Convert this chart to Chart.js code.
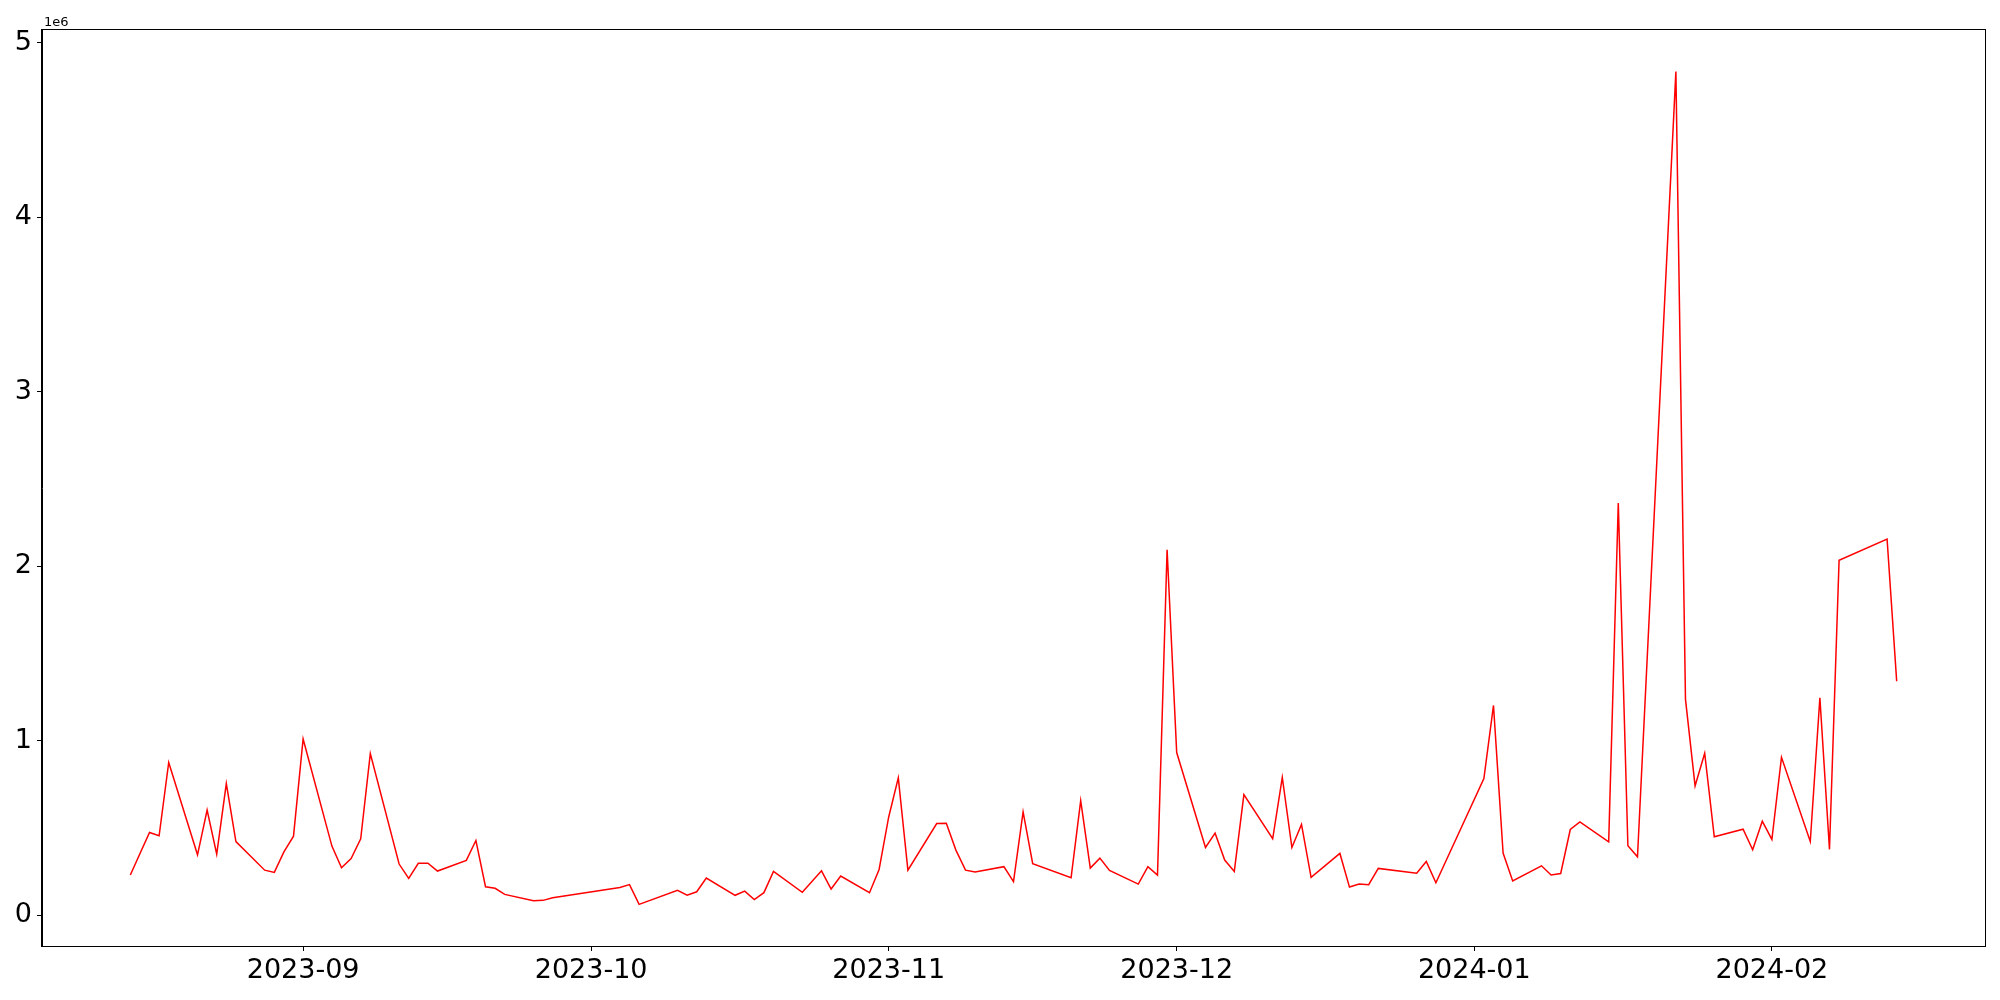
<!DOCTYPE html>
<html>
<head>
<meta charset="utf-8">
<script src="https://cdn.jsdelivr.net/npm/chart.js@4/dist/chart.umd.min.js"></script>
<style>
  html, body { margin: 0; padding: 0; background: #fff; }
  #wrap { width: 2000px; height: 1000px; }
</style>
</head>
<body>
<div id="wrap"><canvas id="c" width="2000" height="1000"></canvas></div>
<script>
// ---- data ----
const dates = [
  '2023-08-14','2023-08-16','2023-08-17','2023-08-18','2023-08-21','2023-08-22','2023-08-23','2023-08-24','2023-08-25',
  '2023-08-28','2023-08-29','2023-08-30','2023-08-31','2023-09-01','2023-09-04','2023-09-05','2023-09-06','2023-09-07',
  '2023-09-08','2023-09-11','2023-09-12','2023-09-13','2023-09-14','2023-09-15','2023-09-18','2023-09-19','2023-09-20',
  '2023-09-21','2023-09-22','2023-09-25','2023-09-26','2023-09-27','2023-10-04','2023-10-05','2023-10-06','2023-10-10',
  '2023-10-11','2023-10-12','2023-10-13','2023-10-16','2023-10-17','2023-10-18','2023-10-19','2023-10-20','2023-10-23',
  '2023-10-25','2023-10-26','2023-10-27','2023-10-30','2023-10-31','2023-11-01','2023-11-02','2023-11-03','2023-11-06',
  '2023-11-07','2023-11-08','2023-11-09','2023-11-10','2023-11-13','2023-11-14','2023-11-15','2023-11-16','2023-11-20',
  '2023-11-21','2023-11-22','2023-11-23','2023-11-24','2023-11-27','2023-11-28','2023-11-29','2023-11-30','2023-12-01',
  '2023-12-04','2023-12-05','2023-12-06','2023-12-07','2023-12-08','2023-12-11','2023-12-12','2023-12-13','2023-12-14',
  '2023-12-15','2023-12-18','2023-12-19','2023-12-20','2023-12-21','2023-12-22','2023-12-26','2023-12-27','2023-12-28',
  '2024-01-02','2024-01-03','2024-01-04','2024-01-05','2024-01-08','2024-01-09','2024-01-10','2024-01-11','2024-01-12',
  '2024-01-15','2024-01-16','2024-01-17','2024-01-18','2024-01-22','2024-01-23','2024-01-24','2024-01-25','2024-01-26',
  '2024-01-29','2024-01-30','2024-01-31','2024-02-01','2024-02-02','2024-02-05','2024-02-06','2024-02-07','2024-02-08',
  '2024-02-13','2024-02-14'
];
const values = [
  229000, 473000, 454000, 874000, 345000, 602000, 349000, 753000, 421000,
  257000, 244000, 362000, 452000, 1009000, 395000, 271000, 324000, 437000,
  925000, 292000, 210000, 296000, 297000, 252000, 313000, 427000, 162000,
  153000, 118000, 82000, 84000, 99000, 158000, 174000, 61000, 141000,
  114000, 133000, 212000, 113000, 137000, 88000, 128000, 250000, 130000,
  253000, 149000, 223000, 128000, 261000, 562000, 786000, 257000, 524000,
  526000, 372000, 257000, 246000, 277000, 191000, 591000, 294000, 214000,
  656000, 269000, 326000, 256000, 177000, 277000, 229000, 2094000, 931000,
  387000, 469000, 315000, 250000, 690000, 437000, 789000, 387000, 519000,
  216000, 353000, 160000, 177000, 174000, 267000, 240000, 307000, 185000,
  782000, 1201000, 355000, 195000, 282000, 229000, 238000, 490000, 534000,
  419000, 2361000, 397000, 334000, 4834000, 1236000, 740000, 927000, 448000,
  492000, 374000, 538000, 433000, 904000, 421000, 1245000, 376000, 2033000,
  2155000, 1340000
];
const monthTickDates = ['2023-09-01','2023-10-01','2023-11-01','2023-12-01','2024-01-01','2024-02-01'];
const monthTickLabels = ['2023-09','2023-10','2023-11','2023-12','2024-01','2024-02'];
const yTickValues = [0, 1000000, 2000000, 3000000, 4000000, 5000000];
const yTickLabels = ['0','1','2','3','4','5'];
const offsetLabel = '1e6';

// ---- helpers ----
function toDay(s) {
  const p = s.split('-').map(Number);
  return Date.UTC(p[0], p[1] - 1, p[2]) / 86400000;
}
const points = dates.map((d, i) => ({ x: toDay(d), y: values[i] }));
const xs = points.map(p => p.x), ys = values;
const xMin0 = Math.min(...xs), xMax0 = Math.max(...xs);
const yMin0 = Math.min(...ys), yMax0 = Math.max(...ys);
const xPad = 0.05 * (xMax0 - xMin0), yPad = 0.05 * (yMax0 - yMin0);

const FONT = "'DejaVu Sans', sans-serif";

const framePlugin = {
  id: 'frame',
  afterDraw(chart) {
    const { ctx, chartArea: a } = chart;
    ctx.save();
    ctx.strokeStyle = '#000';
    ctx.lineWidth = 1;
    ctx.strokeRect(Math.round(a.left) - 0.5, Math.round(a.top) - 0.5,
                   Math.round(a.right - a.left) + 1, Math.round(a.bottom - a.top) + 1);
    ctx.fillStyle = '#000';
    ctx.font = '13px ' + FONT;
    ctx.textAlign = 'left';
    ctx.textBaseline = 'alphabetic';
    ctx.fillText(offsetLabel, a.left + 2, a.top - 4);
    ctx.restore();
  }
};

new Chart(document.getElementById('c'), {
  type: 'line',
  data: {
    datasets: [{
      data: points,
      borderColor: '#ff0000',
      borderWidth: 1.5,
      pointRadius: 0,
      tension: 0,
      fill: false
    }]
  },
  options: {
    responsive: false,
    animation: false,
    parsing: false,
    layout: { padding: { left: 0, right: 15, top: 30, bottom: 0 } },
    plugins: { legend: { display: false }, tooltip: { enabled: false } },
    scales: {
      x: {
        type: 'linear',
        min: xMin0 - xPad,
        max: xMax0 + xPad,
        afterBuildTicks(scale) {
          scale.ticks = monthTickDates.map(d => ({ value: toDay(d) }));
        },
        afterFit(scale) { scale.height = 54; },
        ticks: {
          autoSkip: false,
          maxRotation: 0,
          minRotation: 0,
          padding: 4,
          color: '#000',
          font: { family: FONT, size: 27 },
          callback: (v, i) => monthTickLabels[i]
        },
        grid: { display: true, drawOnChartArea: false, drawTicks: true, tickLength: 5, color: '#000', tickWidth: 1 },
        border: { display: true, color: '#000', width: 1 }
      },
      y: {
        type: 'linear',
        min: yMin0 - yPad,
        max: yMax0 + yPad,
        afterBuildTicks(scale) {
          scale.ticks = yTickValues.map(v => ({ value: v }));
        },
        afterFit(scale) { scale.width = 42; },
        ticks: {
          autoSkip: false,
          padding: 5,
          color: '#000',
          font: { family: FONT, size: 27 },
          callback: (v, i) => yTickLabels[i]
        },
        grid: { display: true, drawOnChartArea: false, drawTicks: true, tickLength: 5, color: '#000', tickWidth: 1 },
        border: { display: true, color: '#000', width: 1 }
      }
    }
  },
  plugins: [framePlugin]
});
</script>
</body>
</html>
